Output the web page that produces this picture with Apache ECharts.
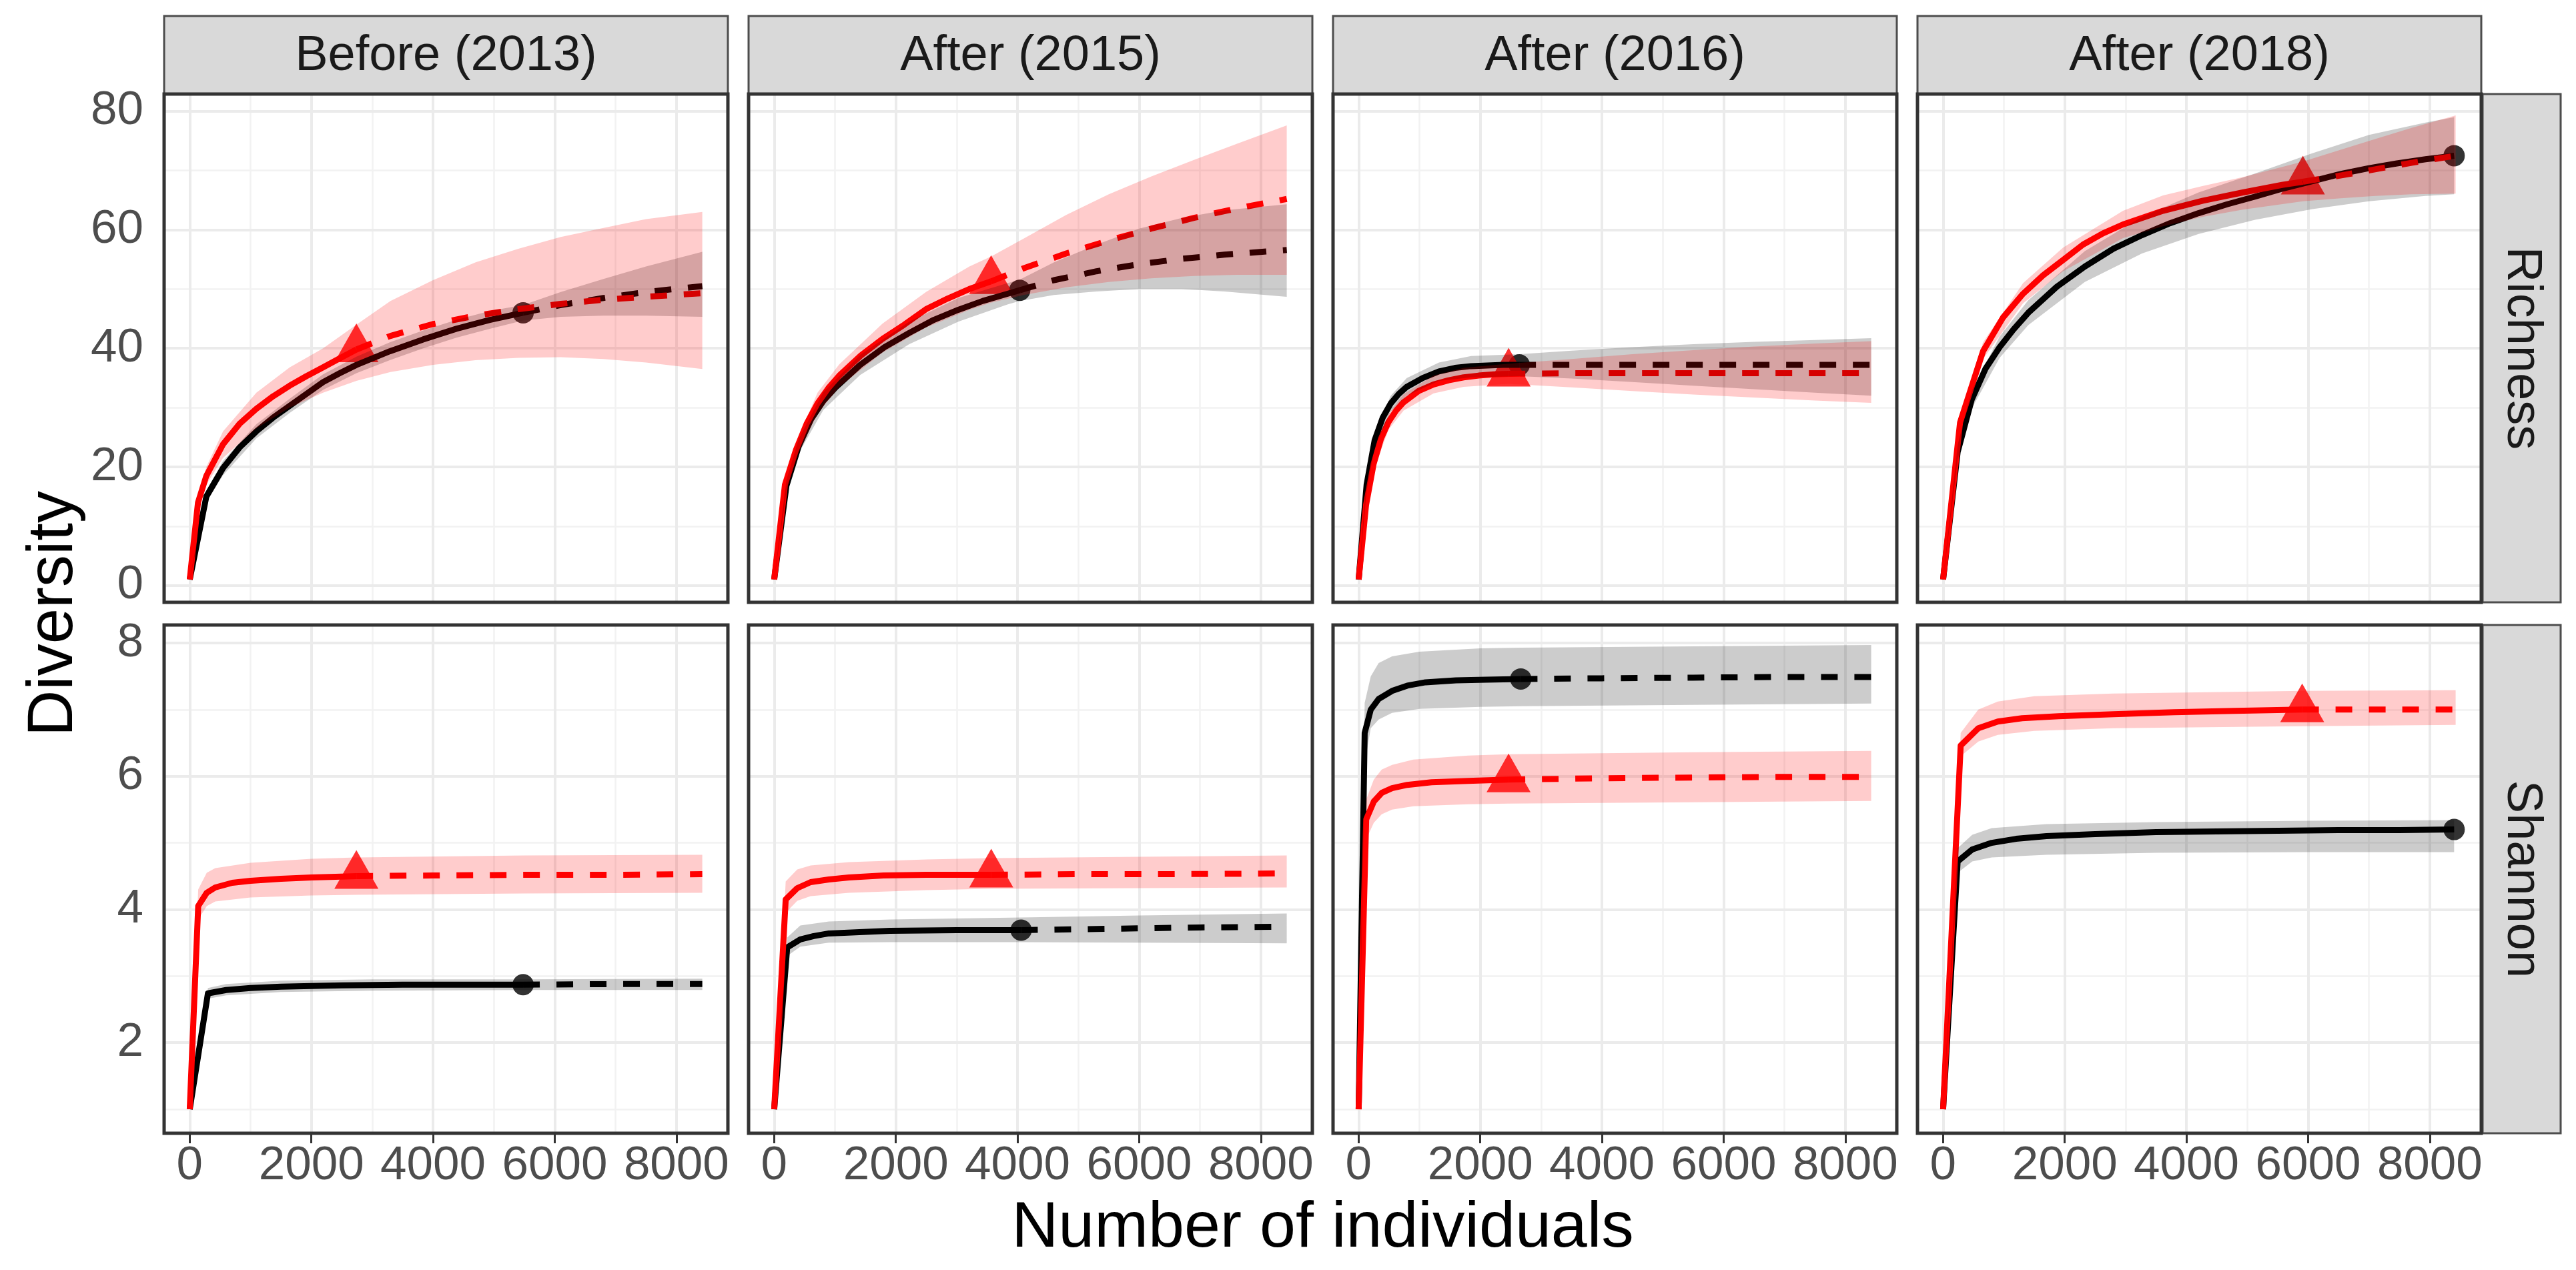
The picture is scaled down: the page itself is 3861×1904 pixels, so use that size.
<!DOCTYPE html>
<html><head><meta charset="utf-8">
<script src="https://cdn.jsdelivr.net/npm/echarts@6/dist/echarts.min.js"></script>
<style>html,body{margin:0;padding:0;background:#fff}#c{width:3861px;height:1904px}</style>
</head><body><div id="c"></div>
<script>
// ---------- categories / ticks ----------
const periods = ['Before (2013)', 'After (2015)', 'After (2016)', 'After (2018)'];
const metrics = ['Richness', 'Shannon'];
const xTicks = [0, 2000, 4000, 6000, 8000];
const xMinor = [1000, 3000, 5000, 7000];
const richTicks = [0, 20, 40, 60, 80];
const richMinor = [10, 30, 50, 70];
const shanTicks = [2, 4, 6, 8];
const shanMinor = [1, 3, 5, 7];

// ---------- Richness: curves [x, y], observed size, ribbons [x, lo, hi] ----------
const rich2013Black = [[1,1],[274,15],[548,19.8],[822,23.3],[1096,26.0],[1370,28.3],[1644,30.3],[1918,32.3],[2192,34.3],[2466,35.8],[2740,37.2],[3288,39.5],[3836,41.5],[4384,43.3],[4932,44.8],[5480,46.0],[6100,47.3],[6800,48.5],[7500,49.5],[8425,50.5]];
const rich2013BlackObs = 5480;
const rich2013BlackCI = [[1,1,1],[274,14,16],[548,18.6,21],[1096,24.8,27.2],[1644,29.1,31.5],[2192,33,35.6],[2740,35.8,38.6],[3288,38,41],[3836,40,43],[4384,41.8,44.8],[4932,43.3,46.3],[5480,44.7,47.3],[6100,45.3,49.5],[6800,45.5,51.7],[7500,45.5,53.8],[8425,45.3,56.3]];
const rich2013Red = [[1,1],[137,14],[274,18.5],[548,23.8],[822,27.3],[1096,29.8],[1370,31.9],[1644,33.7],[1918,35.3],[2192,36.8],[2466,38.3],[2740,39.8],[3300,42.1],[4000,44.1],[4700,45.5],[5400,46.6],[6100,47.5],[6800,48.2],[7500,48.7],[8425,49.3]];
const rich2013RedObs = 2740;
const rich2013RedCI = [[1,1,1],[137,13,15],[274,17,20],[548,21.5,26],[1096,26.5,32.5],[1644,30,36.8],[2192,32.5,40],[2740,34.5,44],[3300,36,48],[4000,37.2,51.5],[4700,38,54.5],[5400,38.4,56.8],[6100,38.5,58.8],[6800,38.2,60.3],[7500,37.6,61.8],[8425,36.5,63]];

const rich2015Black = [[1,1],[202,16.8],[404,23.5],[605,28],[807,31.1],[1009,33.4],[1413,37.2],[1816,40.2],[2220,42.6],[2624,44.8],[3027,46.5],[3431,48.0],[3834,49.2],[4036,49.8],[4600,51.5],[5300,53.0],[6000,54.2],[6700,55.1],[7400,55.8],[8425,56.6]];
const rich2015BlackObs = 4036;
const rich2015BlackCI = [[1,1,1],[202,15.8,17.8],[404,22.3,24.7],[807,29.6,32.6],[1413,35.5,38.9],[2220,40.7,44.5],[3027,44.5,48.5],[3834,47.4,51.0],[4036,48.0,51.6],[4600,49.0,54.5],[5300,49.6,57.5],[6000,50.0,60.2],[6700,50.0,62.0],[7400,49.6,63.3],[8425,48.7,64.3]];
const rich2015Red = [[1,1],[178,17],[357,22.8],[535,27.3],[713,30.7],[892,33.3],[1070,35.4],[1427,38.8],[1783,41.6],[2140,44.0],[2496,46.6],[2853,48.4],[3209,50.0],[3566,51.3],[4100,53.5],[4800,56],[5500,58.2],[6200,60.2],[6900,62],[7600,63.6],[8425,65.2]];
const rich2015RedObs = 3566;
const rich2015RedCI = [[1,1,1],[178,16,18],[357,21.5,24],[713,29,32.5],[1070,33.5,37.3],[1783,39.3,44.2],[2496,43.5,49.5],[3209,46.5,53.8],[3566,47.7,55.5],[4100,49,58.5],[4800,50.3,62.5],[5500,51.2,66],[6200,51.8,69],[6900,52.2,71.8],[7600,52.4,74.5],[8425,52.4,77.6]];

const rich2016Black = [[1,1],[132,17],[264,24.5],[396,28.3],[528,30.7],[660,32.3],[792,33.5],[1056,35.0],[1320,36.1],[1585,36.7],[1849,37.0],[2113,37.1],[2377,37.2],[2641,37.2],[3500,37.2],[4500,37.2],[5500,37.2],[6500,37.2],[7500,37.2],[8425,37.2]];
const rich2016BlackObs = 2641;
const rich2016BlackCI = [[1,1,1],[132,16,18.5],[264,23.3,25.8],[528,29.3,32],[792,32,35],[1320,34.5,37.6],[1849,35.1,38.7],[2641,35.3,39],[3500,34.9,39.6],[4500,34.3,40.2],[5500,33.7,40.7],[6500,33.1,41.1],[7500,32.5,41.4],[8425,32,41.7]];
const rich2016Red = [[1,1],[123,13.6],[247,20.5],[370,24.8],[493,27.6],[617,29.5],[740,30.9],[987,32.8],[1233,33.9],[1480,34.6],[1726,35.1],[1973,35.4],[2220,35.6],[2466,35.7],[3500,35.8],[4500,35.8],[5500,35.8],[6500,35.8],[7500,35.8],[8425,35.8]];
const rich2016RedObs = 2466;
const rich2016RedCI = [[1,1,1],[123,12.8,14.4],[247,19.4,21.6],[493,26.3,28.9],[740,29.5,32.3],[1233,32.4,35.4],[1726,33.5,36.7],[2466,34,37.4],[3500,33.4,38.2],[4500,32.8,39],[5500,32.2,39.7],[6500,31.7,40.3],[7500,31.2,40.8],[8425,30.8,41.2]];

const rich2018Black = [[1,1],[240,22.5],[470,31.3],[700,36.6],[930,40.2],[1160,43.2],[1400,46.0],[1870,50.4],[2330,53.8],[2800,56.8],[3270,59.1],[3730,61.1],[4200,62.8],[4670,64.3],[5130,65.6],[5600,67.0],[6070,68.2],[6530,69.4],[7000,70.4],[7460,71.2],[7930,71.9],[8400,72.5]];
const rich2018BlackObs = 8400;
const rich2018BlackCI = [[1,1,1],[240,21.3,23.7],[470,29.8,32.8],[930,38.4,42],[1400,43.9,48.1],[2330,51.2,56.4],[3270,56,62.2],[4200,59.3,66.3],[5130,61.7,69.5],[6070,63.5,72.9],[7000,64.8,76],[7930,65.7,78.1],[8400,66,79]];
const rich2018Red = [[1,1],[280,27.5],[657,39.5],[986,45.2],[1315,49.2],[1643,52.3],[1972,54.9],[2300,57.5],[2629,59.4],[2958,60.9],[3615,63.2],[4272,64.9],[4929,66.3],[5586,67.6],[5914,68.1],[6500,69.1],[7100,70.2],[7700,71.3],[8425,72.5]];
const rich2018RedObs = 5914;
const rich2018RedCI = [[1,1,1],[280,26.5,28.5],[657,38.2,41],[1315,47.6,51],[1972,53,57],[2958,58.6,63.2],[3615,60.6,65.8],[4272,62.2,67.4],[4929,63.4,68.9],[5914,64.8,71.5],[6500,65.3,73.4],[7100,65.7,75.3],[7700,66,77.2],[8425,66.1,79.3]];

// ---------- Shannon ----------
const shan2013Black = [[1,1],[300,2.74],[600,2.79],[1000,2.82],[1500,2.84],[2500,2.86],[3500,2.87],[4500,2.87],[5480,2.87],[7000,2.88],[8425,2.88]];
const shan2013BlackObs = 5480;
const shan2013BlackCI = [[1,1,1],[300,2.66,2.82],[600,2.71,2.88],[1500,2.76,2.93],[3000,2.78,2.95],[5480,2.79,2.95],[8425,2.79,2.96]];
const shan2013Red = [[1,1],[140,4.05],[280,4.25],[420,4.33],[700,4.4],[1000,4.43],[1500,4.46],[2000,4.48],[2400,4.49],[2740,4.5],[4000,4.51],[5500,4.52],[7000,4.52],[8425,4.53]];
const shan2013RedObs = 2740;
const shan2013RedCI = [[1,1,1],[140,3.85,4.3],[280,4.05,4.55],[420,4.12,4.62],[1000,4.18,4.7],[2000,4.21,4.76],[2740,4.22,4.78],[5500,4.24,4.81],[8425,4.25,4.82]];

const shan2015Black = [[1,1],[215,3.43],[430,3.55],[650,3.6],[900,3.64],[1400,3.66],[1900,3.68],[3000,3.69],[4059,3.69],[5500,3.71],[7000,3.73],[8425,3.74]];
const shan2015BlackObs = 4059;
const shan2015BlackCI = [[1,1,1],[215,3.3,3.58],[430,3.44,3.76],[900,3.5,3.82],[1900,3.51,3.85],[4059,3.51,3.88],[6000,3.5,3.91],[8425,3.49,3.94]];
const shan2015Red = [[1,1],[190,4.15],[380,4.32],[600,4.41],[900,4.45],[1230,4.48],[1800,4.51],[2500,4.52],[3000,4.52],[3568,4.52],[5000,4.53],[6500,4.53],[8425,4.54]];
const shan2015RedObs = 3568;
const shan2015RedCI = [[1,1,1],[190,3.95,4.42],[380,4.13,4.6],[600,4.2,4.66],[1230,4.25,4.71],[2500,4.29,4.75],[3568,4.31,4.77],[6000,4.32,4.79],[8425,4.33,4.81]];

const shan2016Black = [[1,1],[100,6.65],[200,7.0],[330,7.16],[550,7.28],[800,7.36],[1100,7.41],[1600,7.44],[2100,7.45],[2666,7.46],[4000,7.47],[5500,7.48],[7000,7.49],[8425,7.49]];
const shan2016BlackObs = 2666;
const shan2016BlackCI = [[1,1,1],[100,6.2,7.1],[200,6.72,7.5],[330,6.85,7.7],[550,6.95,7.8],[1000,7.01,7.87],[2000,7.04,7.92],[2666,7.05,7.93],[5500,7.07,7.95],[8425,7.09,7.97]];
const shan2016Red = [[1,1],[125,5.35],[250,5.62],[380,5.75],[550,5.82],[800,5.87],[1200,5.91],[1800,5.93],[2465,5.95],[4000,5.97],[5500,5.98],[7000,5.99],[8425,5.99]];
const shan2016RedObs = 2465;
const shan2016RedCI = [[1,1,1],[125,5.05,5.65],[250,5.3,5.95],[380,5.43,6.1],[550,5.5,6.17],[900,5.55,6.25],[1800,5.58,6.31],[2465,5.59,6.33],[5500,5.61,6.36],[8425,5.63,6.38]];

const shan2018Black = [[1,1],[240,4.72],[480,4.9],[800,5.0],[1200,5.06],[1700,5.1],[2500,5.13],[3500,5.16],[4500,5.17],[5500,5.18],[6500,5.19],[7500,5.19],[8400,5.2]];
const shan2018BlackObs = 8400;
const shan2018BlackCI = [[1,1,1],[240,4.55,4.92],[480,4.72,5.12],[800,4.78,5.22],[1700,4.82,5.28],[3500,4.85,5.31],[6000,4.86,5.33],[8400,4.86,5.34]];
const shan2018Red = [[1,1],[290,6.46],[580,6.72],[900,6.82],[1300,6.87],[1900,6.9],[2800,6.93],[3800,6.96],[4800,6.98],[5903,7.0],[7000,7.0],[8425,7.0]];
const shan2018RedObs = 5903;
const shan2018RedCI = [[1,1,1],[290,6.3,6.65],[580,6.52,7.0],[900,6.62,7.12],[1500,6.68,7.2],[2800,6.72,7.24],[5903,6.75,7.28],[8425,6.77,7.29]];

// ---------- panel assembly (row = metric, column = period) ----------
const panels = [
  {r:0,c:0,black:[rich2013Black,rich2013BlackObs,rich2013BlackCI],red:[rich2013Red,rich2013RedObs,rich2013RedCI]},
  {r:0,c:1,black:[rich2015Black,rich2015BlackObs,rich2015BlackCI],red:[rich2015Red,rich2015RedObs,rich2015RedCI]},
  {r:0,c:2,black:[rich2016Black,rich2016BlackObs,rich2016BlackCI],red:[rich2016Red,rich2016RedObs,rich2016RedCI]},
  {r:0,c:3,black:[rich2018Black,rich2018BlackObs,rich2018BlackCI],red:[rich2018Red,rich2018RedObs,rich2018RedCI]},
  {r:1,c:0,black:[shan2013Black,shan2013BlackObs,shan2013BlackCI],red:[shan2013Red,shan2013RedObs,shan2013RedCI]},
  {r:1,c:1,black:[shan2015Black,shan2015BlackObs,shan2015BlackCI],red:[shan2015Red,shan2015RedObs,shan2015RedCI]},
  {r:1,c:2,black:[shan2016Black,shan2016BlackObs,shan2016BlackCI],red:[shan2016Red,shan2016RedObs,shan2016RedCI]},
  {r:1,c:3,black:[shan2018Black,shan2018BlackObs,shan2018BlackCI],red:[shan2018Red,shan2018RedObs,shan2018RedCI]}
];

// ---------- layout ----------
const FONT = 'Liberation Sans, Arial, sans-serif';
const PL = [246, 1122, 1998, 2874], PW = 845;
const PT = [141, 937], PH = 762;
const STRIP_T = 24, STRIP_H = 117, RSTRIP_L = 3721, RSTRIP_W = 117;
const XR = [-420, 8846];
const YR = [[-2.85, 82.9], [0.64, 8.27]];
const BLACK = '#000000', RED = '#FF0000';
const LW = 9, DASH = [25, 25];
const plain = v => String(v);

const grids = [], xAxes = [], yAxes = [], series = [];
panels.forEach((p, i) => {
  grids.push({left: PL[p.c], top: PT[p.r], width: PW, height: PH, show: false});
  const bottom = p.r === 1, first = p.c === 0;
  xAxes.push({
    type: 'value', gridIndex: i, min: XR[0], max: XR[1],
    axisLine: {show: false}, splitLine: {show: false},
    axisTick: {show: bottom, customValues: xTicks, length: 15, lineStyle: {color: '#333', width: 3}},
    axisLabel: {show: bottom, customValues: xTicks, formatter: plain, fontSize: 71, fontFamily: FONT, color: '#4D4D4D', margin: 14}
  });
  const yt = p.r === 0 ? richTicks : shanTicks;
  const ym = p.r === 0 ? richMinor : shanMinor;
  yAxes.push({
    type: 'value', gridIndex: i, min: YR[p.r][0], max: YR[p.r][1],
    axisLine: {show: false}, splitLine: {show: false},
    axisTick: {show: first, customValues: yt, length: 15, lineStyle: {color: '#333', width: 3}},
    axisLabel: {show: first, customValues: yt, formatter: plain, fontSize: 71, fontFamily: FONT, color: '#4D4D4D', margin: 31}
  });
  // grid lines through the axes' own scales (kept beneath all data marks)
  const gl = [];
  xMinor.forEach(v => gl.push({xAxis: v, lineStyle: {color: '#F2F2F2', width: 2.5, type: 'solid'}}));
  ym.forEach(v => gl.push({yAxis: v, lineStyle: {color: '#F2F2F2', width: 2.5, type: 'solid'}}));
  xTicks.forEach(v => gl.push({xAxis: v, lineStyle: {color: '#EBEBEB', width: 4, type: 'solid'}}));
  yt.forEach(v => gl.push({yAxis: v, lineStyle: {color: '#EBEBEB', width: 4, type: 'solid'}}));
  series.push({type: 'line', xAxisIndex: i, yAxisIndex: i, data: [], z: 1, silent: true,
    markLine: {z: 1, silent: true, symbol: ['none', 'none'], label: {show: false}, animation: false, data: gl}});

  // observed points
  [['black', BLACK], ['red', RED]].forEach(([k, col]) => {
    const [line, obs] = p[k];
    const pt = line.filter(d => d[0] === obs);
    series.push({type: 'scatter', xAxisIndex: i, yAxisIndex: i, z: 2, silent: true, data: pt,
      symbol: k === 'black' ? 'circle' : 'triangle',
      symbolSize: k === 'black' ? 32 : [66, 58],
      symbolOffset: k === 'black' ? [0, 0] : [0, -10],
      itemStyle: {color: col}});
  });
  // lines: solid (interpolation) and dashed (extrapolation)
  [['black', BLACK], ['red', RED]].forEach(([k, col]) => {
    const [line, obs] = p[k];
    const solid = line.filter(d => d[0] <= obs);
    const dashed = line.filter(d => d[0] >= obs);
    series.push({type: 'line', xAxisIndex: i, yAxisIndex: i, z: 3, silent: true, data: solid,
      symbol: 'none', lineStyle: {color: col, width: LW, type: 'solid', cap: 'butt', join: 'round'}});
    if (dashed.length > 1) series.push({type: 'line', xAxisIndex: i, yAxisIndex: i, z: 3, silent: true, data: dashed,
      symbol: 'none', lineStyle: {color: col, width: LW, type: DASH, cap: 'butt'}});
  });
  // ribbons (drawn over the lines, as in the source figure)
  [['black', 'rgba(0,0,0,0.2)'], ['red', 'rgba(255,0,0,0.2)']].forEach(([k, fill]) => {
    const ci = p[k][2];
    series.push({type: 'custom', xAxisIndex: i, yAxisIndex: i, z: 4, silent: true,
      data: [[ci[0][0], ci[0][1]]],
      renderItem: (params, api) => {
        const up = ci.map(d => api.coord([d[0], d[2]]));
        const lo = ci.slice().reverse().map(d => api.coord([d[0], d[1]]));
        return {type: 'polygon', shape: {points: up.concat(lo)}, style: {fill: fill}};
      }});
  });
});

// ---------- strips, borders, titles ----------
const graphic = [];
periods.forEach((t, c) => {
  graphic.push({type: 'rect', z: 100, shape: {x: PL[c], y: STRIP_T, width: PW, height: STRIP_H},
    style: {fill: '#D9D9D9', stroke: '#4D4D4D', lineWidth: 3}});
  graphic.push({type: 'text', z: 101, x: PL[c] + PW / 2, y: STRIP_T + STRIP_H / 2 + 2,
    style: {text: t, fontSize: 74, fontFamily: FONT, fill: '#1A1A1A', align: 'center', verticalAlign: 'middle'}});
});
metrics.forEach((t, r) => {
  graphic.push({type: 'rect', z: 100, shape: {x: RSTRIP_L, y: PT[r], width: RSTRIP_W, height: PH},
    style: {fill: '#D9D9D9', stroke: '#4D4D4D', lineWidth: 3}});
  graphic.push({type: 'text', z: 101, x: RSTRIP_L + RSTRIP_W / 2, y: PT[r] + PH / 2, rotation: -Math.PI / 2,
    style: {text: t, fontSize: 74, fontFamily: FONT, fill: '#1A1A1A', align: 'center', verticalAlign: 'middle'}});
});
panels.forEach(p => {
  graphic.push({type: 'rect', z: 102, shape: {x: PL[p.c], y: PT[p.r], width: PW, height: PH},
    style: {fill: 'none', stroke: '#333', lineWidth: 5}});
});
graphic.push({type: 'text', z: 101, x: 82, y: 920, rotation: Math.PI / 2,
  style: {text: 'Diversity', fontSize: 96, fontFamily: FONT, fill: '#000', align: 'center', verticalAlign: 'middle'}});
graphic.push({type: 'text', z: 101, x: (PL[0] + PL[3] + PW) / 2, y: 1842,
  style: {text: 'Number of individuals', fontSize: 97, fontFamily: FONT, fill: '#000', align: 'center', verticalAlign: 'middle'}});

const chart = echarts.init(document.getElementById('c'), null, {renderer: 'canvas'});
chart.setOption({
  animation: false,
  backgroundColor: '#fff',
  grid: grids, xAxis: xAxes, yAxis: yAxes, series: series, graphic: graphic
});
</script></body></html>
